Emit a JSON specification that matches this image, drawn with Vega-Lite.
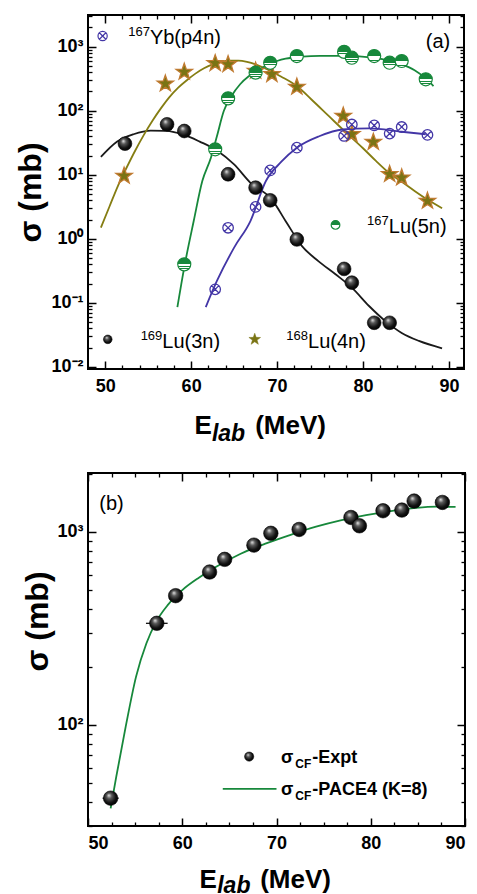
{
  "$schema": "https://vega.github.io/schema/vega-lite/v6.json",
  "padding": {"left": 13, "top": 13, "right": 0, "bottom": 0},
  "spacing": 24,
  "config": {"font": "Liberation Sans", "view": {"stroke": "#000000", "strokeWidth": 2}, "axis": {"grid": false}},
  "datasets": {
    "curvesA": [
      {"s": "169", "x": 49.5, "y": 19}, {"s": "169", "x": 51.4, "y": 33}, {"s": "169", "x": 53.3, "y": 43}, {"s": "169", "x": 55.3, "y": 49}, {"s": "169", "x": 57.0, "y": 48.5}, {"s": "169", "x": 59.2, "y": 42}, {"s": "169", "x": 61.0, "y": 33}, {"s": "169", "x": 63.0, "y": 24}, {"s": "169", "x": 65.0, "y": 14.5}, {"s": "169", "x": 66.9, "y": 7.5}, {"s": "169", "x": 69.4, "y": 4.1}, {"s": "169", "x": 71.1, "y": 1.8}, {"s": "169", "x": 72.9, "y": 0.77}, {"s": "169", "x": 74.8, "y": 0.45}, {"s": "169", "x": 76.8, "y": 0.28}, {"s": "169", "x": 78.7, "y": 0.173}, {"s": "169", "x": 80.7, "y": 0.0895}, {"s": "169", "x": 82.6, "y": 0.052}, {"s": "169", "x": 84.5, "y": 0.034}, {"s": "169", "x": 86.5, "y": 0.0255}, {"s": "169", "x": 89.2, "y": 0.0196},
      {"s": "168", "x": 49.5, "y": 1.5}, {"s": "168", "x": 50.5, "y": 3.2}, {"s": "168", "x": 51.5, "y": 6.8}, {"s": "168", "x": 52.5, "y": 13}, {"s": "168", "x": 53.5, "y": 24}, {"s": "168", "x": 54.5, "y": 42}, {"s": "168", "x": 55.5, "y": 70}, {"s": "168", "x": 56.5, "y": 110}, {"s": "168", "x": 57.5, "y": 165}, {"s": "168", "x": 58.5, "y": 230}, {"s": "168", "x": 59.5, "y": 300}, {"s": "168", "x": 60.5, "y": 380}, {"s": "168", "x": 61.5, "y": 460}, {"s": "168", "x": 62.5, "y": 530}, {"s": "168", "x": 63.5, "y": 580}, {"s": "168", "x": 64.5, "y": 605}, {"s": "168", "x": 65.5, "y": 605}, {"s": "168", "x": 66.5, "y": 580}, {"s": "168", "x": 67.5, "y": 530}, {"s": "168", "x": 68.5, "y": 465}, {"s": "168", "x": 69.5, "y": 400}, {"s": "168", "x": 70.5, "y": 340}, {"s": "168", "x": 72.3, "y": 243}, {"s": "168", "x": 74.0, "y": 150}, {"s": "168", "x": 76.0, "y": 83}, {"s": "168", "x": 78.0, "y": 46}, {"s": "168", "x": 80.0, "y": 26}, {"s": "168", "x": 81.5, "y": 16.5}, {"s": "168", "x": 83.0, "y": 10.8}, {"s": "168", "x": 84.5, "y": 7.8}, {"s": "168", "x": 86.0, "y": 5.6}, {"s": "168", "x": 87.5, "y": 4.1}, {"s": "168", "x": 89.2, "y": 3.0},
      {"s": "167", "x": 58.4, "y": 0.086}, {"s": "167", "x": 59.2, "y": 0.36}, {"s": "167", "x": 60.3, "y": 1.9}, {"s": "167", "x": 61.3, "y": 8}, {"s": "167", "x": 62.3, "y": 18.5}, {"s": "167", "x": 63.0, "y": 40}, {"s": "167", "x": 63.8, "y": 99}, {"s": "167", "x": 64.7, "y": 170}, {"s": "167", "x": 65.7, "y": 259}, {"s": "167", "x": 66.7, "y": 345}, {"s": "167", "x": 67.7, "y": 418}, {"s": "167", "x": 69.0, "y": 530}, {"s": "167", "x": 70.0, "y": 598}, {"s": "167", "x": 71.0, "y": 650}, {"s": "167", "x": 72.9, "y": 700}, {"s": "167", "x": 75.0, "y": 720}, {"s": "167", "x": 78.0, "y": 720}, {"s": "167", "x": 80.5, "y": 690}, {"s": "167", "x": 82.5, "y": 630}, {"s": "167", "x": 84.5, "y": 531}, {"s": "167", "x": 86.0, "y": 430}, {"s": "167", "x": 87.3, "y": 320}, {"s": "167", "x": 88.2, "y": 243},
      {"s": "yb", "x": 61.7, "y": 0.086}, {"s": "yb", "x": 63.0, "y": 0.22}, {"s": "yb", "x": 65.0, "y": 0.73}, {"s": "yb", "x": 66.9, "y": 1.9}, {"s": "yb", "x": 68.7, "y": 8}, {"s": "yb", "x": 70.5, "y": 16}, {"s": "yb", "x": 72.3, "y": 26.5}, {"s": "yb", "x": 74.9, "y": 40}, {"s": "yb", "x": 77.6, "y": 51}, {"s": "yb", "x": 80.7, "y": 53}, {"s": "yb", "x": 84.5, "y": 47}, {"s": "yb", "x": 87.3, "y": 43}
    ],
    "ptsA": [
      {"s": "169", "role": "data", "x": 52.3, "y": 30.6}, {"s": "169", "role": "data", "x": 57.2, "y": 61.5}, {"s": "169", "role": "data", "x": 59.2, "y": 48.3}, {"s": "169", "role": "data", "x": 64.3, "y": 10.2}, {"s": "169", "role": "data", "x": 67.5, "y": 6.3}, {"s": "169", "role": "data", "x": 69.2, "y": 4.0}, {"s": "169", "role": "data", "x": 72.3, "y": 0.98}, {"s": "169", "role": "data", "x": 77.8, "y": 0.34}, {"s": "169", "role": "data", "x": 78.7, "y": 0.207}, {"s": "169", "role": "data", "x": 81.3, "y": 0.049}, {"s": "169", "role": "data", "x": 83.1, "y": 0.049}, {"s": "169", "role": "key", "x": 50.3, "y": 0.027},
      {"s": "168", "role": "data", "x": 52.2, "y": 9.6}, {"s": "168", "role": "data", "x": 57.0, "y": 264}, {"s": "168", "role": "data", "x": 59.2, "y": 403}, {"s": "168", "role": "data", "x": 62.8, "y": 551}, {"s": "168", "role": "data", "x": 64.3, "y": 531}, {"s": "168", "role": "data", "x": 67.5, "y": 418}, {"s": "168", "role": "data", "x": 69.4, "y": 371}, {"s": "168", "role": "data", "x": 72.3, "y": 235}, {"s": "168", "role": "data", "x": 77.7, "y": 83}, {"s": "168", "role": "data", "x": 78.7, "y": 43}, {"s": "168", "role": "data", "x": 81.2, "y": 32.5}, {"s": "168", "role": "data", "x": 83.1, "y": 10.2}, {"s": "168", "role": "data", "x": 84.5, "y": 9.0}, {"s": "168", "role": "data", "x": 87.5, "y": 3.9}, {"s": "168", "role": "key", "x": 67.4, "y": 0.027},
      {"s": "167", "role": "data", "x": 59.2, "y": 0.40}, {"s": "167", "role": "data", "x": 62.8, "y": 25}, {"s": "167", "role": "data", "x": 64.3, "y": 156}, {"s": "167", "role": "data", "x": 67.5, "y": 393}, {"s": "167", "role": "data", "x": 69.2, "y": 560}, {"s": "167", "role": "data", "x": 72.3, "y": 715}, {"s": "167", "role": "data", "x": 77.8, "y": 830}, {"s": "167", "role": "data", "x": 78.7, "y": 673}, {"s": "167", "role": "data", "x": 81.3, "y": 715}, {"s": "167", "role": "data", "x": 83.1, "y": 562}, {"s": "167", "role": "data", "x": 84.5, "y": 598}, {"s": "167", "role": "data", "x": 87.3, "y": 310}, {"s": "167", "role": "key", "x": 76.8, "y": 1.65},
      {"s": "yb", "role": "data", "x": 62.8, "y": 0.163}, {"s": "yb", "role": "data", "x": 64.3, "y": 1.49}, {"s": "yb", "role": "data", "x": 67.5, "y": 3.15}, {"s": "yb", "role": "data", "x": 69.2, "y": 11.7}, {"s": "yb", "role": "data", "x": 72.3, "y": 26.5}, {"s": "yb", "role": "data", "x": 77.8, "y": 40.4}, {"s": "yb", "role": "data", "x": 78.7, "y": 61}, {"s": "yb", "role": "data", "x": 81.3, "y": 59}, {"s": "yb", "role": "data", "x": 83.1, "y": 44}, {"s": "yb", "role": "data", "x": 84.5, "y": 55.8}, {"s": "yb", "role": "data", "x": 87.5, "y": 41.9}, {"s": "yb", "role": "key", "x": 49.7, "y": 1470}
    ],
    "annA": [
      {"x": 55.2, "y": 1090, "sup": "167", "main": "Yb(p4n)"},
      {"x": 87.3, "y": 944, "sup": "", "main": "(a)"},
      {"x": 83.0, "y": 1.25, "sup": "167", "main": "Lu(5n)"},
      {"x": 56.65, "y": 0.02, "sup": "169", "main": "Lu(3n)"},
      {"x": 73.6, "y": 0.02, "sup": "168", "main": "Lu(4n)"}
    ],
    "subA": [{"x": 62.42, "y": 0.0007, "t": "lab"}],
    "curveB": [
      {"x": 52.4, "y": 37}, {"x": 53.0, "y": 54}, {"x": 54.0, "y": 98}, {"x": 55.1, "y": 178}, {"x": 56.2, "y": 265}, {"x": 57.2, "y": 340}, {"x": 58.5, "y": 420}, {"x": 60.0, "y": 499}, {"x": 61.8, "y": 580}, {"x": 63.6, "y": 659}, {"x": 66.2, "y": 770}, {"x": 68.9, "y": 871}, {"x": 71.5, "y": 965}, {"x": 74.2, "y": 1062}, {"x": 76.8, "y": 1145}, {"x": 79.5, "y": 1219}, {"x": 82.1, "y": 1280}, {"x": 84.8, "y": 1331}, {"x": 87.0, "y": 1350}, {"x": 89.0, "y": 1346}
    ],
    "ptsB": [
      {"role": "data", "x": 52.4, "y": 41.8}, {"role": "data", "x": 57.3, "y": 336}, {"role": "data", "x": 59.3, "y": 467}, {"role": "data", "x": 62.9, "y": 619}, {"role": "data", "x": 64.5, "y": 720}, {"role": "data", "x": 67.6, "y": 853}, {"role": "data", "x": 69.4, "y": 982}, {"role": "data", "x": 72.4, "y": 1028}, {"role": "data", "x": 77.9, "y": 1186}, {"role": "data", "x": 78.8, "y": 1074}, {"role": "data", "x": 81.3, "y": 1285}, {"role": "data", "x": 83.3, "y": 1295}, {"role": "data", "x": 84.6, "y": 1442}, {"role": "data", "x": 87.6, "y": 1419}, {"role": "key", "x": 67.1, "y": 68.6}
    ],
    "errB": [
      {"x": 51.55, "x2": 53.25, "y": 41.8}, {"x": 56.15, "x2": 58.45, "y": 336}
    ],
    "keyLineB": [
      {"x": 64.3, "x2": 70.0, "y": 46.7}
    ],
    "annB": [
      {"x": 73.8, "y": 63.6, "pre": "σ", "sub": "CF", "main": "-Expt"},
      {"x": 73.8, "y": 43.4, "pre": "σ", "sub": "CF", "main": "-PACE4 (K=8)"}
    ],
    "labB": [
      {"x": 51.2, "y": 1295, "main": "(b)"}
    ],
    "subB": [{"x": 63.71, "y": 13.5, "t": "lab"}]
  },
  "vconcat": [
    {
      "width": 376,
      "height": 354,
      "resolve": {"axis": {"x": "independent", "y": "independent"}},
      "layer": [
        {
          "data": {"name": "curvesA"},
          "mark": {"type": "line", "strokeWidth": 1.8, "interpolate": "monotone"},
          "encoding": {
            "x": {"field": "x", "type": "quantitative", "scale": {"domain": [48, 91.75], "nice": false, "zero": false},
              "axis": {"orient": "bottom", "values": [50, 60, 70, 80, 90], "tickSize": -8, "domain": false,
                "tickColor": "black", "tickWidth": 1.5,
                "labelFontSize": 18, "labelFontWeight": "bold", "labelColor": "black", "labelPadding": 16, "labelOverlap": false,
                "title": "E\u00a0\u00a0\u00a0\u00a0\u00a0\u00a0(MeV)", "titleFontSize": 26, "titleFontWeight": "bold", "titleColor": "black", "titleX": 106, "titleY": 64, "titleAlign": "left", "titleBaseline": "alphabetic", "titleAngle": 0}},
            "y": {"field": "y", "type": "quantitative", "scale": {"type": "log", "domain": [0.0093, 3125], "nice": false},
              "axis": {"orient": "left", "values": [0.01, 0.1, 1, 10, 100, 1000], "tickSize": -8, "domain": false,
                "tickColor": "black", "tickWidth": 1.5,
                "labelExpr": "datum.value == 1000 ? '10³' : datum.value == 100 ? '10²' : datum.value == 10 ? '10¹' : datum.value == 1 ? '10⁰' : datum.value == 0.1 ? '10⁻¹' : '10⁻²'",
                "labelPadding": 13, "labelOverlap": false,
                "labelFontSize": 18, "labelFontWeight": "bold", "labelColor": "black", "labelBaseline": "middle",
                "title": "σ (mb)", "titleFontSize": 32, "titleFontWeight": "bold", "titleColor": "black", "titleX": -58, "titleY": 177, "titleAlign": "center", "titleBaseline": "middle", "titleAngle": -90}},
            "color": {"field": "s", "type": "nominal", "scale": {"domain": ["169", "168", "167", "yb"], "range": ["#1a1a1a", "#857d12", "#17883b", "#4336a6"]}, "legend": null}
          }
        },
        {
          "data": {"name": "ptsA"},
          "transform": [{"filter": "datum.s == '169' && datum.role == 'data'"}],
          "mark": {"type": "point", "shape": "circle", "filled": true, "opacity": 1, "stroke": "#000", "strokeWidth": 0.6, "size": 190,
            "fill": {"gradient": "radial", "x1": 0.38, "y1": 0.3, "r1": 0, "x2": 0.45, "y2": 0.45, "r2": 0.6, "stops": [{"offset": 0, "color": "#e6e6e6"}, {"offset": 0.3, "color": "#5a5a5a"}, {"offset": 0.7, "color": "#111111"}, {"offset": 1, "color": "#000000"}]}},
          "encoding": {
            "x": {"field": "x", "type": "quantitative",
              "axis": {"orient": "bottom", "values": [52,54,56,58,62,64,66,68,72,74,76,78,82,84,86,88], "tickSize": -4, "tickColor": "black", "tickWidth": 1.3, "domain": false, "labels": false, "title": null}},
            "y": {"field": "y", "type": "quantitative",
              "axis": {"orient": "left", "values": [0.02,0.03,0.04,0.05,0.06,0.07,0.08,0.09,0.2,0.3,0.4,0.5,0.6,0.7,0.8,0.9,2,3,4,5,6,7,8,9,20,30,40,50,60,70,80,90,200,300,400,500,600,700,800,900,2000,3000], "tickSize": -4, "tickColor": "black", "tickWidth": 1.3, "domain": false, "labels": false, "title": null}}
          }
        },
        {
          "data": {"name": "ptsA"},
          "transform": [{"filter": "datum.s == '169' && datum.role == 'key'"}],
          "mark": {"type": "point", "shape": "circle", "filled": true, "opacity": 1, "stroke": "#000", "strokeWidth": 0.5, "size": 75,
            "fill": {"gradient": "radial", "x1": 0.38, "y1": 0.3, "r1": 0, "x2": 0.45, "y2": 0.45, "r2": 0.6, "stops": [{"offset": 0, "color": "#e6e6e6"}, {"offset": 0.3, "color": "#5a5a5a"}, {"offset": 0.7, "color": "#111111"}, {"offset": 1, "color": "#000000"}]}},
          "encoding": {
            "x": {"field": "x", "type": "quantitative",
              "axis": {"orient": "top", "values": [50, 60, 70, 80, 90], "tickSize": -8, "tickColor": "black", "tickWidth": 1.5, "domain": false, "labels": false, "title": null}},
            "y": {"field": "y", "type": "quantitative",
              "axis": {"orient": "right", "values": [0.01, 0.1, 1, 10, 100, 1000], "tickSize": -8, "tickColor": "black", "tickWidth": 1.5, "domain": false, "labels": false, "title": null}}
          }
        },
        {
          "data": {"name": "ptsA"},
          "transform": [{"filter": "datum.s == '168' && datum.role == 'data'"}],
          "mark": {"type": "point", "shape": "M 0 -1 L 0.235 -0.324 L 0.951 -0.309 L 0.38 0.124 L 0.588 0.809 L 0 0.4 L -0.588 0.809 L -0.38 0.124 L -0.951 -0.309 L -0.235 -0.324 Z", "filled": true, "opacity": 1, "fill": "#7a7414", "stroke": "#c07a30", "strokeWidth": 1.3, "size": 300},
          "encoding": {
            "x": {"field": "x", "type": "quantitative",
              "axis": {"orient": "top", "values": [52,54,56,58,62,64,66,68,72,74,76,78,82,84,86,88], "tickSize": -4, "tickColor": "black", "tickWidth": 1.3, "domain": false, "labels": false, "title": null}},
            "y": {"field": "y", "type": "quantitative",
              "axis": {"orient": "right", "values": [0.02,0.03,0.04,0.05,0.06,0.07,0.08,0.09,0.2,0.3,0.4,0.5,0.6,0.7,0.8,0.9,2,3,4,5,6,7,8,9,20,30,40,50,60,70,80,90,200,300,400,500,600,700,800,900,2000,3000], "tickSize": -4, "tickColor": "black", "tickWidth": 1.3, "domain": false, "labels": false, "title": null}}
          }
        },
        {
          "data": {"name": "ptsA"},
          "transform": [{"filter": "datum.s == '168' && datum.role == 'key'"}],
          "mark": {"type": "point", "shape": "M 0 -1 L 0.235 -0.324 L 0.951 -0.309 L 0.38 0.124 L 0.588 0.809 L 0 0.4 L -0.588 0.809 L -0.38 0.124 L -0.951 -0.309 L -0.235 -0.324 Z", "filled": true, "opacity": 1, "fill": "#7a7414", "stroke": "#7a7414", "strokeWidth": 0.5, "size": 150},
          "encoding": {"x": {"field": "x", "type": "quantitative", "axis": null}, "y": {"field": "y", "type": "quantitative", "axis": null}}
        },
        {
          "data": {"name": "ptsA"},
          "transform": [{"filter": "datum.s == '167' && datum.role == 'data'"}],
          "mark": {"type": "point", "shape": "circle", "filled": true, "opacity": 1, "stroke": "#17883b", "strokeWidth": 1.2, "size": 170,
            "fill": {"gradient": "linear", "x1": 0, "y1": 0, "x2": 0, "y2": 1, "stops": [{"offset": 0, "color": "#17883b"}, {"offset": 0.5, "color": "#17883b"}, {"offset": 0.5, "color": "#ffffff"}, {"offset": 0.62, "color": "#ffffff"}, {"offset": 0.62, "color": "#17883b"}, {"offset": 0.68, "color": "#17883b"}, {"offset": 0.68, "color": "#ffffff"}, {"offset": 0.79, "color": "#ffffff"}, {"offset": 0.79, "color": "#17883b"}, {"offset": 0.85, "color": "#17883b"}, {"offset": 0.85, "color": "#ffffff"}, {"offset": 1, "color": "#ffffff"}]}},
          "encoding": {"x": {"field": "x", "type": "quantitative", "axis": null}, "y": {"field": "y", "type": "quantitative", "axis": null}}
        },
        {
          "data": {"name": "ptsA"},
          "transform": [{"filter": "datum.s == '167' && datum.role == 'key'"}],
          "mark": {"type": "point", "shape": "circle", "filled": true, "opacity": 1, "stroke": "#17883b", "strokeWidth": 1.2, "size": 75,
            "fill": {"gradient": "linear", "x1": 0, "y1": 0, "x2": 0, "y2": 1, "stops": [{"offset": 0, "color": "#17883b"}, {"offset": 0.5, "color": "#17883b"}, {"offset": 0.5, "color": "#ffffff"}, {"offset": 1, "color": "#ffffff"}]}},
          "encoding": {"x": {"field": "x", "type": "quantitative", "axis": null}, "y": {"field": "y", "type": "quantitative", "axis": null}}
        },
        {
          "data": {"name": "ptsA"},
          "transform": [{"filter": "datum.s == 'yb' && datum.role == 'data'"}],
          "mark": {"type": "point", "shape": "M -1 0 A 1 1 0 1 1 1 0 A 1 1 0 1 1 -1 0 Z M -0.7 -0.7 L 0.7 0.7 M -0.7 0.7 L 0.7 -0.7", "filled": false, "opacity": 1, "stroke": "#4336a6", "strokeWidth": 1.3, "size": 110},
          "encoding": {"x": {"field": "x", "type": "quantitative", "axis": null}, "y": {"field": "y", "type": "quantitative", "axis": null}}
        },
        {
          "data": {"name": "ptsA"},
          "transform": [{"filter": "datum.s == 'yb' && datum.role == 'key'"}],
          "mark": {"type": "point", "shape": "M -1 0 A 1 1 0 1 1 1 0 A 1 1 0 1 1 -1 0 Z M -0.7 -0.7 L 0.7 0.7 M -0.7 0.7 L 0.7 -0.7", "filled": false, "opacity": 1, "stroke": "#4336a6", "strokeWidth": 1.2, "size": 85},
          "encoding": {"x": {"field": "x", "type": "quantitative", "axis": null}, "y": {"field": "y", "type": "quantitative", "axis": null}}
        },
        {
          "data": {"name": "annA"},
          "mark": {"type": "text", "align": "left", "baseline": "alphabetic", "fontSize": 20, "color": "black"},
          "encoding": {"x": {"field": "x", "type": "quantitative", "axis": null}, "y": {"field": "y", "type": "quantitative", "axis": null}, "text": {"field": "main"}}
        },
        {
          "data": {"name": "annA"},
          "mark": {"type": "text", "align": "right", "baseline": "alphabetic", "fontSize": 13, "dy": -8, "color": "black"},
          "encoding": {"x": {"field": "x", "type": "quantitative", "axis": null}, "y": {"field": "y", "type": "quantitative", "axis": null}, "text": {"field": "sup"}}
        },
        {
          "data": {"name": "subA"},
          "mark": {"type": "text", "align": "left", "baseline": "alphabetic", "fontSize": 23, "fontWeight": "bold", "fontStyle": "italic", "color": "black"},
          "encoding": {"x": {"field": "x", "type": "quantitative", "axis": null}, "y": {"field": "y", "type": "quantitative", "axis": null}, "text": {"field": "t"}}
        }
      ]
    },
    {
      "width": 377,
      "height": 353,
      "resolve": {"axis": {"x": "independent", "y": "independent"}},
      "layer": [
        {
          "data": {"name": "curveB"},
          "mark": {"type": "line", "strokeWidth": 1.8, "interpolate": "monotone", "color": "#17883b"},
          "encoding": {
            "x": {"field": "x", "type": "quantitative", "scale": {"domain": [50, 90], "nice": false, "zero": false},
              "axis": {"orient": "bottom", "values": [50, 60, 70, 80, 90], "tickSize": -8, "domain": false,
                "tickColor": "black", "tickWidth": 1.5,
                "labelFontSize": 18, "labelFontWeight": "bold", "labelColor": "black", "labelPadding": 16, "labelOverlap": false,
                "title": "E\u00a0\u00a0\u00a0\u00a0\u00a0\u00a0(MeV)", "titleFontSize": 26, "titleFontWeight": "bold", "titleColor": "black", "titleX": 111, "titleY": 61, "titleAlign": "left", "titleBaseline": "alphabetic", "titleAngle": 0}},
            "y": {"field": "y", "type": "quantitative", "scale": {"type": "log", "domain": [30, 2015], "nice": false},
              "axis": {"orient": "left", "values": [100, 1000], "tickSize": -8, "domain": false,
                "tickColor": "black", "tickWidth": 1.5,
                "labelExpr": "datum.value == 1000 ? '10³' : '10²'",
                "labelPadding": 13, "labelOverlap": false,
                "labelFontSize": 18, "labelFontWeight": "bold", "labelColor": "black", "labelBaseline": "middle",
                "title": "σ (mb)", "titleFontSize": 32, "titleFontWeight": "bold", "titleColor": "black", "titleX": -51, "titleY": 148, "titleAlign": "center", "titleBaseline": "middle", "titleAngle": -90}}
          }
        },
        {
          "data": {"name": "errB"},
          "mark": {"type": "rule", "color": "black", "strokeWidth": 1.2},
          "encoding": {
            "x": {"field": "x", "type": "quantitative",
              "axis": {"orient": "bottom", "values": [52.5, 55, 57.5, 62.5, 65, 67.5, 72.5, 75, 77.5, 82.5, 85, 87.5], "tickSize": -4, "tickColor": "black", "tickWidth": 1.3, "domain": false, "labels": false, "title": null}},
            "x2": {"field": "x2"},
            "y": {"field": "y", "type": "quantitative",
              "axis": {"orient": "left", "values": [30,40,50,60,70,80,90,200,300,400,500,600,700,800,900,2000], "tickSize": -4, "tickColor": "black", "tickWidth": 1.3, "domain": false, "labels": false, "title": null}}
          }
        },
        {
          "data": {"name": "ptsB"},
          "transform": [{"filter": "datum.role == 'data'"}],
          "mark": {"type": "point", "shape": "circle", "filled": true, "opacity": 1, "stroke": "#000", "strokeWidth": 0.6, "size": 210,
            "fill": {"gradient": "radial", "x1": 0.38, "y1": 0.3, "r1": 0, "x2": 0.45, "y2": 0.45, "r2": 0.6, "stops": [{"offset": 0, "color": "#e6e6e6"}, {"offset": 0.3, "color": "#5a5a5a"}, {"offset": 0.7, "color": "#111111"}, {"offset": 1, "color": "#000000"}]}},
          "encoding": {
            "x": {"field": "x", "type": "quantitative",
              "axis": {"orient": "top", "values": [50, 60, 70, 80, 90], "tickSize": -8, "tickColor": "black", "tickWidth": 1.5, "domain": false, "labels": false, "title": null}},
            "y": {"field": "y", "type": "quantitative",
              "axis": {"orient": "right", "values": [100, 1000], "tickSize": -8, "tickColor": "black", "tickWidth": 1.5, "domain": false, "labels": false, "title": null}}
          }
        },
        {
          "data": {"name": "ptsB"},
          "transform": [{"filter": "datum.role == 'key'"}],
          "mark": {"type": "point", "shape": "circle", "filled": true, "opacity": 1, "stroke": "#000", "strokeWidth": 0.5, "size": 85,
            "fill": {"gradient": "radial", "x1": 0.38, "y1": 0.3, "r1": 0, "x2": 0.45, "y2": 0.45, "r2": 0.6, "stops": [{"offset": 0, "color": "#e6e6e6"}, {"offset": 0.3, "color": "#5a5a5a"}, {"offset": 0.7, "color": "#111111"}, {"offset": 1, "color": "#000000"}]}},
          "encoding": {
            "x": {"field": "x", "type": "quantitative",
              "axis": {"orient": "top", "values": [52.5, 55, 57.5, 62.5, 65, 67.5, 72.5, 75, 77.5, 82.5, 85, 87.5], "tickSize": -4, "tickColor": "black", "tickWidth": 1.3, "domain": false, "labels": false, "title": null}},
            "y": {"field": "y", "type": "quantitative",
              "axis": {"orient": "right", "values": [30,40,50,60,70,80,90,200,300,400,500,600,700,800,900,2000], "tickSize": -4, "tickColor": "black", "tickWidth": 1.3, "domain": false, "labels": false, "title": null}}
          }
        },
        {
          "data": {"name": "keyLineB"},
          "mark": {"type": "rule", "color": "#17883b", "strokeWidth": 1.8},
          "encoding": {"x": {"field": "x", "type": "quantitative", "axis": null}, "x2": {"field": "x2"}, "y": {"field": "y", "type": "quantitative", "axis": null}}
        },
        {
          "data": {"name": "annB"},
          "mark": {"type": "text", "align": "left", "baseline": "alphabetic", "fontSize": 18, "fontWeight": "bold", "color": "black"},
          "encoding": {"x": {"field": "x", "type": "quantitative", "axis": null}, "y": {"field": "y", "type": "quantitative", "axis": null}, "text": {"field": "main"}}
        },
        {
          "data": {"name": "annB"},
          "mark": {"type": "text", "align": "right", "baseline": "alphabetic", "fontSize": 12, "fontWeight": "bold", "dy": 5, "dx": -1, "color": "black"},
          "encoding": {"x": {"field": "x", "type": "quantitative", "axis": null}, "y": {"field": "y", "type": "quantitative", "axis": null}, "text": {"field": "sub"}}
        },
        {
          "data": {"name": "annB"},
          "mark": {"type": "text", "align": "right", "baseline": "alphabetic", "fontSize": 18, "fontWeight": "bold", "dx": -19, "color": "black"},
          "encoding": {"x": {"field": "x", "type": "quantitative", "axis": null}, "y": {"field": "y", "type": "quantitative", "axis": null}, "text": {"field": "pre"}}
        },
        {
          "data": {"name": "labB"},
          "mark": {"type": "text", "align": "left", "baseline": "alphabetic", "fontSize": 20, "color": "black"},
          "encoding": {"x": {"field": "x", "type": "quantitative", "axis": null}, "y": {"field": "y", "type": "quantitative", "axis": null}, "text": {"field": "main"}}
        },
        {
          "data": {"name": "subB"},
          "mark": {"type": "text", "align": "left", "baseline": "alphabetic", "fontSize": 23, "fontWeight": "bold", "fontStyle": "italic", "color": "black"},
          "encoding": {"x": {"field": "x", "type": "quantitative", "axis": null}, "y": {"field": "y", "type": "quantitative", "axis": null}, "text": {"field": "t"}}
        }
      ]
    }
  ]
}
